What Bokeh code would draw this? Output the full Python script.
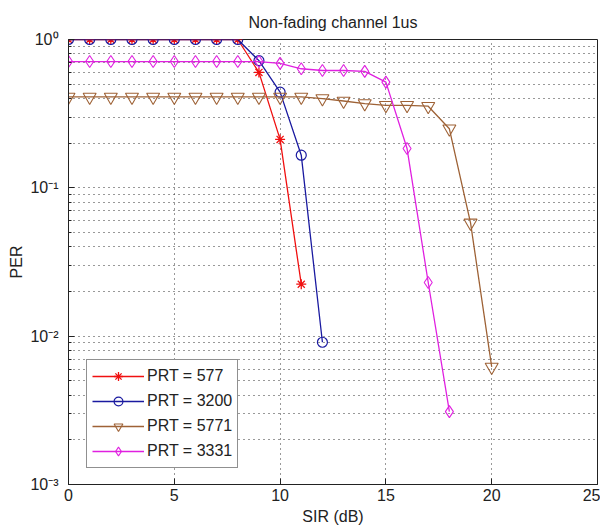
from bokeh.plotting import figure
from bokeh.models import Legend, LegendItem, FixedTicker, Range1d
from bokeh.embed import file_html
from bokeh.resources import INLINE

# ---- data ----
sir_577 = [0, 1, 2, 3, 4, 5, 6, 7, 8, 9, 10, 11]
per_577 = [1, 1, 1, 1, 1, 1, 1, 1, 1, 0.60, 0.212, 0.0224]

sir_3200 = [0, 1, 2, 3, 4, 5, 6, 7, 8, 9, 10, 11, 12]
per_3200 = [1, 1, 1, 1, 1, 1, 1, 1, 1, 0.72, 0.442, 0.166, 0.0091]

sir_5771 = [0, 1, 2, 3, 4, 5, 6, 7, 8, 9, 10, 11, 12, 13, 14, 15, 16, 17, 18, 19, 20]
per_5771 = [0.41, 0.41, 0.41, 0.41, 0.41, 0.41, 0.41, 0.41, 0.41, 0.41, 0.41, 0.41,
            0.40, 0.385, 0.37, 0.36, 0.36, 0.355, 0.25, 0.058, 0.0062]

sir_3331 = [0, 1, 2, 3, 4, 5, 6, 7, 8, 9, 10, 11, 12, 13, 14, 15, 16, 17, 18]
per_3331 = [0.71, 0.71, 0.71, 0.71, 0.71, 0.71, 0.71, 0.71, 0.71, 0.71, 0.69, 0.635,
            0.618, 0.618, 0.61, 0.516, 0.184, 0.023, 0.0031]

labels = ["PRT = 577", "PRT = 3200", "PRT = 5771", "PRT = 3331"]

x_ticks = [0, 5, 10, 15, 20, 25]
y_ticks = [0.001, 0.01, 0.1, 1]
y_tick_labels = ["10\u207b\u00b3", "10\u207b\u00b2", "10\u207b\u00b9", "10\u2070"]
y_minor = [m * d for d in (0.001, 0.01, 0.1) for m in range(2, 10)]

FONT = "Liberation Sans"
FS = "16px"

p = figure(width=600, height=530, x_range=Range1d(0, 25), y_range=Range1d(0.001, 1),
           y_axis_type="log", output_backend="svg", toolbar_location=None,
           min_border_left=68, min_border_right=3, min_border_top=39,
           min_border_bottom=46, title="Non-fading channel 1us")

p.title.align = "center"
p.title.text_font = FONT
p.title.text_font_size = "16px"
p.title.text_font_style = "normal"
p.title.text_color = "#222222"
p.title.standoff = 18

p.outline_line_color = "#222222"
p.outline_line_width = 1
p.background_fill_color = "white"

xt = FixedTicker(ticks=x_ticks)
yt = FixedTicker(ticks=y_ticks, minor_ticks=y_minor)

p.xaxis.ticker = xt
p.yaxis.ticker = yt
p.yaxis.major_label_overrides = {t: l for t, l in zip(y_ticks, y_tick_labels)}

for ax in (p.xaxis, p.yaxis):
    ax.major_tick_in = 6
    ax.major_tick_out = 0
    ax.minor_tick_in = 3
    ax.minor_tick_out = 0
    ax.major_label_text_font = FONT
    ax.major_label_text_font_size = FS
    ax.major_label_text_color = "#222222"
    ax.axis_label_text_font = FONT
    ax.axis_label_text_font_size = FS
    ax.axis_label_text_font_style = "normal"
    ax.axis_label_text_color = "#222222"
    ax.axis_line_color = "#222222"
    ax.major_tick_line_color = "#222222"
    ax.minor_tick_line_color = "#222222"
p.xaxis.minor_tick_line_color = None
p.xaxis.axis_label = "SIR (dB)"
p.yaxis.axis_label = "PER"
p.xaxis.major_label_standoff = 4
p.yaxis.major_label_standoff = 10
p.xaxis.axis_label_standoff = 4
p.yaxis.axis_label_standoff = 2

for g in (p.xgrid, p.ygrid):
    g.grid_line_color = "#333333"
    g.grid_line_dash = "1 4"
    g.grid_line_width = 1
p.ygrid.minor_grid_line_color = "#333333"
p.ygrid.minor_grid_line_dash = "1 4"

LW = 1.3
c577, c3200, c5771, c3331 = "#f01010", "#1a1aa0", "#9e6236", "#e020e0"

l1 = p.line(sir_577, per_577, line_color=c577, line_width=LW)
s1 = p.scatter(sir_577, per_577, marker="asterisk", size=10, line_color=c577, line_width=1.3)
l2 = p.line(sir_3200, per_3200, line_color=c3200, line_width=LW)
s2 = p.scatter(sir_3200, per_3200, marker="circle", size=10, line_color=c3200,
               fill_color=None, line_width=1.2)
l3 = p.line(sir_5771, per_5771, line_color=c5771, line_width=LW)
s3 = p.scatter(sir_5771, per_5771, marker="inverted_triangle", size=13, line_color=c5771,
               fill_color=None, line_width=1.1)
l4 = p.line(sir_3331, per_3331, line_color=c3331, line_width=LW)
s4 = p.scatter(sir_3331, per_3331, marker="diamond", size=12, line_color=c3331,
               fill_color=None, line_width=1.1)

legend = Legend(items=[LegendItem(label=labels[0], renderers=[l1, s1]),
                       LegendItem(label=labels[1], renderers=[l2, s2]),
                       LegendItem(label=labels[2], renderers=[l3, s3]),
                       LegendItem(label=labels[3], renderers=[l4, s4])],
                location=(18, 16), margin=0, padding=5, spacing=3,
                glyph_width=52, glyph_height=22, label_height=22, label_standoff=3,
                label_text_font=FONT, label_text_font_size=FS, label_text_color="#222222",
                border_line_color="#222222", border_line_width=1,
                background_fill_color="white", background_fill_alpha=1)
p.add_layout(legend)

open("out.html", "w").write(file_html(p, INLINE))
